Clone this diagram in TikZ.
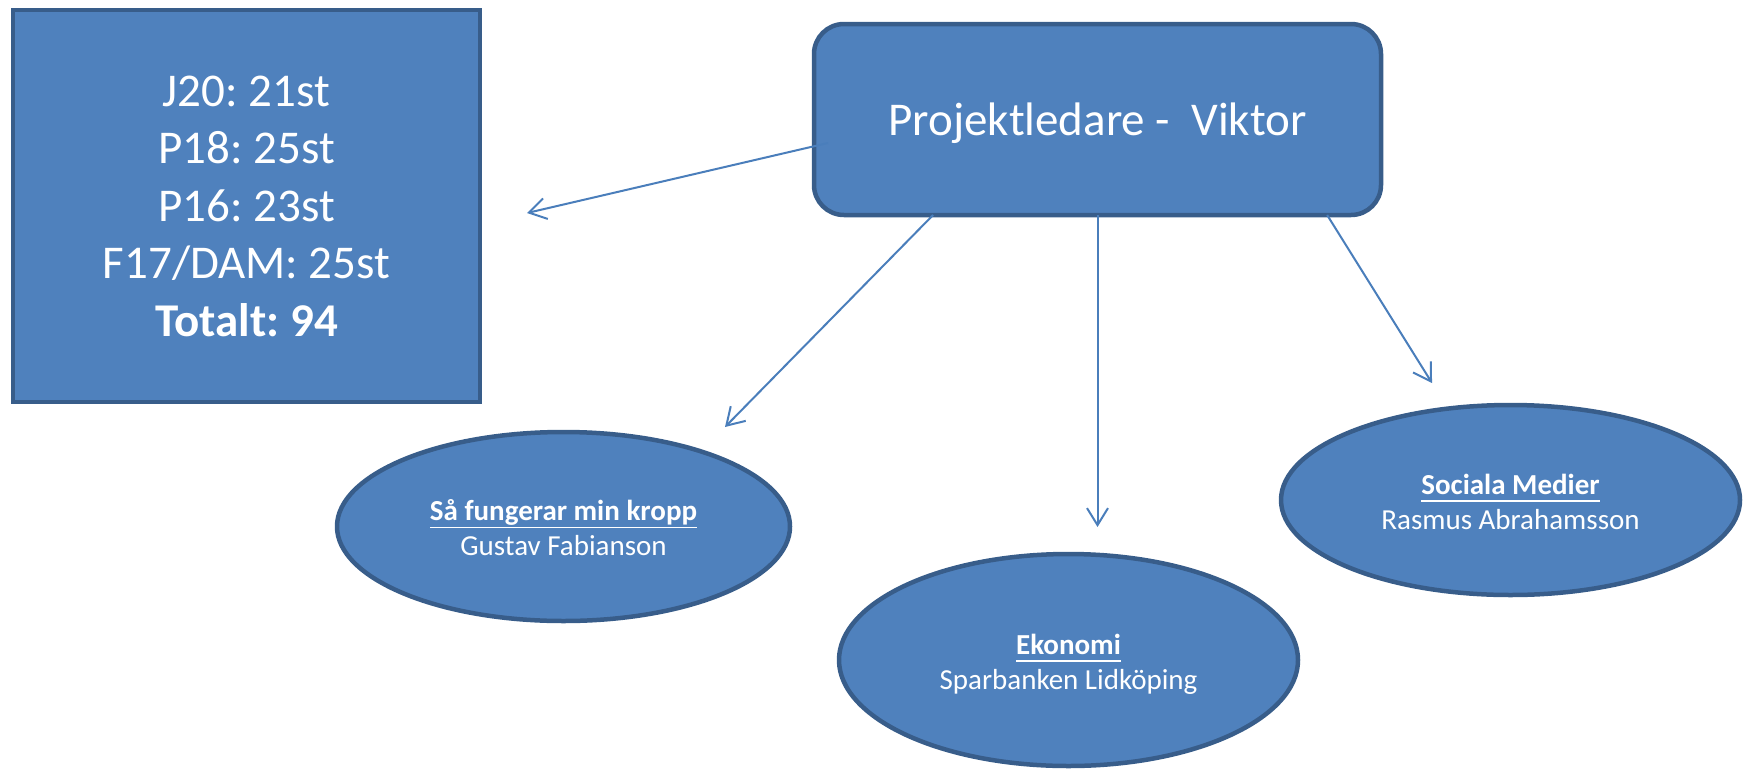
\documentclass[tikz,border=0pt]{standalone}
\usepackage{fontspec}
\setmainfont{Carlito}
\frenchspacing
\usetikzlibrary{calc,shapes.geometric,arrows.meta}
\definecolor{boxfill}{HTML}{4F81BD}
\definecolor{boxline}{HTML}{385D8A}
\definecolor{linkline}{HTML}{4A7EBB}
\newsavebox{\titlebox}
\newcommand{\ttitle}[1]{\sbox{\titlebox}{\bfseries #1}\rlap{\rule[-7.8pt]{\wd\titlebox}{1.8pt}}\usebox{\titlebox}}
\newcommand{\topic}[6]{\node[topic, minimum width=#3, minimum height=#4] (#1) at (#2) {};
    \node[topictext] (#1text) at ([yshift=-29pt]#1.center) {\ttitle{#5}\\#6};}
\tikzset{
    blockbase/.style={fill=boxfill, draw=boxline, line width=4.5pt, text=white, inner sep=0pt, outer sep=0pt},
    statbox/.style={blockbase, rectangle, minimum width=467pt, minimum height=392pt, align=center,
        font=\fontsize{47}{57.5}\selectfont},
    leadbox/.style={blockbase, rectangle, rounded corners=30pt, minimum width=567pt, minimum height=191pt,
        font=\fontsize{47}{57}\selectfont, text height=44.7pt, text depth=12.6pt},
    topic/.style={blockbase, ellipse},
    topictext/.style={anchor=base, align=center, text=white, inner sep=0pt, font=\fontsize{29}{35}\selectfont},
    link/.style={draw=linkline, line width=2pt, -{Straight Barb[length=17pt,width=21pt]}}
}

\begin{document}
\begin{tikzpicture}[x=1pt, y=-1pt]
    \useasboundingbox (0,0) rectangle (1750,769);
    % teams
    \node[statbox] (stats) at (246.5,206) {J20: 21st\\P18: 25st\\P16: 23st\\F17/DAM: 25st\\\textbf{Totalt: 94}};
    % leader
    \node[leadbox] (lead) at (1097.5,119.5) {Projektledare -~~Viktor};
    % topics
    \topic{kropp}{563.5,526.5}{453pt}{189pt}{Så fungerar min kropp}{Gustav Fabianson}
    \topic{ekonomi}{1068.5,660}{459pt}{212pt}{Ekonomi}{Sparbanken Lidköping}
    \topic{social}{1510.5,500}{459pt}{190pt}{Sociala Medier}{Rasmus Abrahamsson}
    % arrow ends
    \coordinate (endstats) at (527,213);
    \coordinate (endkropp) at (725,427);
    \coordinate (endekonomi) at (1097.5,527);
    \coordinate (endsocial) at (1432,383);
    % arrows
    \draw[link] ([shift={(14,23.5)}]lead.west) -- (endstats);
    \draw[link] ($(lead.south west)!0.21!(lead.south east)$) -- (endkropp);
    \draw[link] (lead.south) -- (endekonomi);
    \draw[link] ($(lead.south west)!0.905!(lead.south east)$) -- (endsocial);
\end{tikzpicture}
\end{document}
